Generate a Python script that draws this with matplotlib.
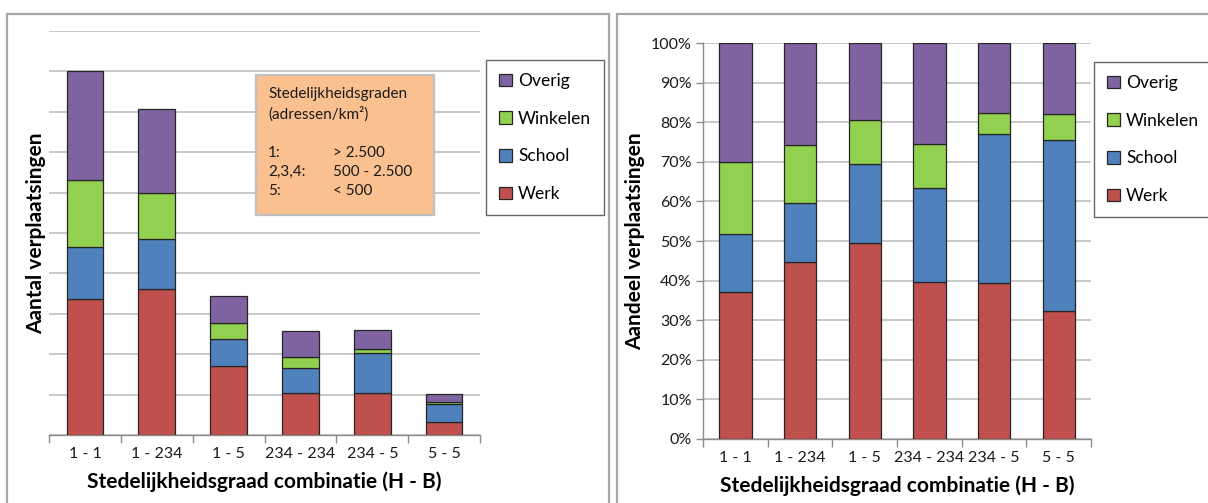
import matplotlib as mpl
import matplotlib.pyplot as plt
import numpy as np
from matplotlib.patches import Patch, Rectangle
from matplotlib.ticker import FixedLocator, NullFormatter

W, H = 1208, 503

categories = ["1 - 1", "1 - 234", "1 - 5", "234 - 234", "234 - 5", "5 - 5"]
motives = ["Werk", "School", "Winkelen", "Overig"]
colors = ["#C0504D", "#4F81BD", "#92D050", "#8064A2"]

# absolute number of trips (grid units, no scale printed)
count_werk = [3.36, 3.61, 1.70, 1.03, 1.03, 0.33]
count_school = [1.30, 1.23, 0.67, 0.62, 0.99, 0.43]
count_winkelen = [1.65, 1.16, 0.39, 0.27, 0.12, 0.06]
count_overig = [2.71, 2.08, 0.67, 0.66, 0.47, 0.19]

# share of trips per combination (%)
share_werk = [37.0, 44.7, 49.5, 39.7, 39.3, 32.4]
share_school = [14.8, 15.0, 20.0, 23.8, 37.7, 43.0]
share_winkelen = [18.1, 14.6, 11.1, 11.1, 5.3, 6.6]
share_overig = [30.1, 25.7, 19.4, 25.4, 17.7, 18.0]

legend_text = [("1:", "> 2.500"), ("2,3,4:", "500 - 2.500"), ("5:", "< 500")]

mpl.rcParams.update({
    "font.family": ["Lato", "DejaVu Sans"],
    "axes.linewidth": 1.0,
})

GRID = "#C4C4C4"
AXIS = "#8C8C8C"
BORDER = "#A6A6A6"


def fx(x):
    return x / W


def fy(y):
    return 1 - y / H


def add_axes_px(fig, x0, y0, x1, y1):
    ax = fig.add_axes([fx(x0), fy(y1), (x1 - x0) / W, (y1 - y0) / H])
    ax.patch.set_alpha(0)
    return ax


def stacked(ax, series, width):
    x = np.arange(len(categories))
    bottom = np.zeros(len(categories))
    for vals, col in zip(series, colors):
        vals = np.asarray(vals, float)
        ax.bar(x, vals, width, bottom=bottom, color=col, edgecolor="#262626",
               linewidth=0.9, zorder=3)
        bottom += vals
    ax.set_xlim(-0.5, len(categories) - 0.5)
    ax.set_xticks(x)
    ax.set_xticklabels(categories, fontsize=11.5, color="#1A1A1A")
    ax.xaxis.set_minor_locator(FixedLocator(np.arange(-0.5, len(categories), 1)))
    ax.xaxis.set_minor_formatter(NullFormatter())
    ax.tick_params(axis="x", which="major", length=0, pad=9)
    ax.tick_params(axis="x", which="minor", length=6, width=1.0, color=AXIS, direction="out")
    for side in ("top", "right", "left"):
        ax.spines[side].set_visible(False)
    ax.spines["bottom"].set_color(AXIS)
    ax.grid(axis="y", color=GRID, linewidth=1.3, zorder=0)
    ax.set_axisbelow(True)


def legend_at(fig, x0, y0):
    handles = [Patch(facecolor=c, edgecolor="#262626", linewidth=0.9, label=m)
               for m, c in zip(motives, colors)][::-1]
    leg = fig.legend(handles=handles, loc="upper left", bbox_to_anchor=(fx(x0), fy(y0)),
                     frameon=True, fancybox=False, fontsize=12.5, handlelength=0.75,
                     handleheight=0.75, handletextpad=0.35, labelspacing=1.25,
                     borderpad=0.75, borderaxespad=0)
    frame = leg.get_frame()
    frame.set_edgecolor("#404040")
    frame.set_linewidth(1.0)
    return leg


fig = plt.figure(figsize=(W / 100, H / 100), dpi=100)

# chart borders
for x0, x1 in ((7, 609), (617, 1215)):
    fig.patches.append(Rectangle((fx(x0), fy(520)), (x1 - x0) / W, (520 - 14) / H,
                                 transform=fig.transFigure, facecolor="none",
                                 edgecolor=BORDER, linewidth=1.6, zorder=0))

# left: number of trips
ax1 = add_axes_px(fig, 49, 31, 480, 435)
stacked(ax1, [count_werk, count_school, count_winkelen, count_overig], 0.51)
ax1.set_ylim(0, 10)
ax1.set_yticks(np.arange(0, 11, 1))
ax1.tick_params(axis="y", length=0, labelleft=False)
ax1.set_ylabel("Aantal verplaatsingen", fontsize=15, fontweight="bold", labelpad=2)
ax1.set_xlabel("Stedelijkheidsgraad combinatie (H - B)", fontsize=15,
               fontweight="bold", labelpad=7)

# density classes note
fig.patches.append(Rectangle((fx(256), fy(215)), (434 - 256) / W, (215 - 75) / H,
                             transform=fig.transFigure, facecolor="#FAC090",
                             edgecolor="#BFBFBF", linewidth=1.6, zorder=5))
note_kw = dict(fontsize=11, color="#1A1A1A", va="center", ha="left", zorder=6)
fig.text(fx(268), fy(94), "Stedelijkheidsgraden", **note_kw)
fig.text(fx(268), fy(114), "(adressen/km²)", **note_kw)
for i, (a, b) in enumerate(legend_text):
    yy = 153 + i * 19.2
    fig.text(fx(268), fy(yy), a, **note_kw)
    fig.text(fx(333), fy(yy), b, **note_kw)

legend_at(fig, 486, 60)

# right: share of trips
ax2 = add_axes_px(fig, 703, 43, 1091, 439)
stacked(ax2, [share_werk, share_school, share_winkelen, share_overig], 0.50)
ax2.set_ylim(0, 100)
ax2.set_yticks(np.arange(0, 101, 10))
ax2.set_yticklabels([f"{v}%" for v in range(0, 101, 10)], fontsize=11.5, color="#1A1A1A")
ax2.spines["left"].set_visible(True)
ax2.spines["left"].set_color(AXIS)
ax2.tick_params(axis="y", length=5, width=1.0, color=AXIS, pad=3)
ax2.set_ylabel("Aandeel verplaatsingen", fontsize=15, fontweight="bold", labelpad=4)
ax2.set_xlabel("Stedelijkheidsgraad combinatie (H - B)", fontsize=15,
               fontweight="bold", labelpad=7)

legend_at(fig, 1094, 62)

fig.savefig("out.png", dpi=100)
